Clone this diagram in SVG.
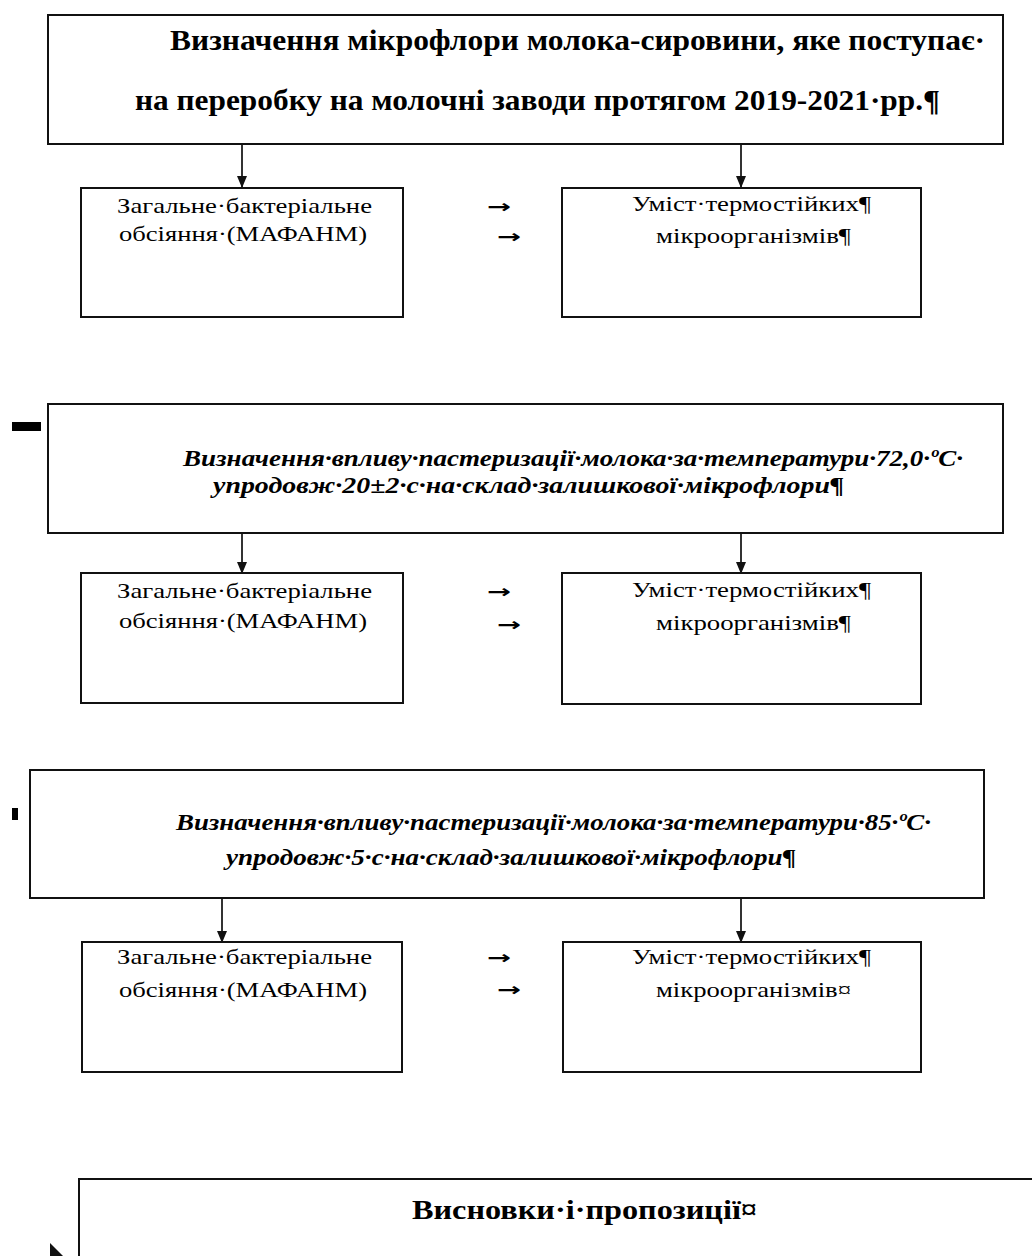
<svg xmlns="http://www.w3.org/2000/svg" width="1032" height="1256" viewBox="0 0 1032 1256">
<defs>
<marker id="ah" markerUnits="userSpaceOnUse" markerWidth="12" markerHeight="12" viewBox="0 0 12 12" refX="11" refY="6" orient="auto">
<path d="M0,1 L12,6 L0,11 Z" fill="#111"/>
</marker>
</defs>
<style>
.box{fill:#fff;stroke:#111;stroke-width:2}
.conn{stroke:#333;stroke-width:2;fill:none;marker-end:url(#ah)}
.tb{font-family:"Liberation Serif","Times New Roman",serif;font-weight:bold;font-size:29px;fill:#000}
.ti{font-family:"Liberation Serif","Times New Roman",serif;font-weight:bold;font-style:italic;font-size:23px;fill:#000}
.t{font-family:"Liberation Serif","Times New Roman",serif;font-size:22px;fill:#000}
.tab{font-family:"DejaVu Sans",sans-serif;font-weight:bold;font-size:18px;fill:#000}
.mark{fill:#000}
</style>
<rect width="1032" height="1256" fill="#fff"/>

<g id="connectors">
<line class="conn" x1="242" y1="145" x2="242" y2="187"/>
<line class="conn" x1="741" y1="145" x2="741" y2="187"/>
<line class="conn" x1="242" y1="533" x2="242" y2="573"/>
<line class="conn" x1="741" y1="533" x2="741" y2="573"/>
<line class="conn" x1="222" y1="898" x2="222" y2="942"/>
<line class="conn" x1="741" y1="898" x2="741" y2="942"/>
<path d="M50,1243 L63,1256 L50,1256 Z" fill="#111"/>
</g>

<g id="marks">
<rect class="mark" x="12" y="422" width="29" height="9"/>
<rect class="mark" x="12" y="808" width="6" height="12"/>
</g>

<g id="title1">
<rect class="box" x="48" y="15" width="955" height="129"/>
<text class="tb" x="170" y="50" textLength="815" lengthAdjust="spacingAndGlyphs">Визначення мікрофлори молока-сировини, яке поступає·</text>
<text class="tb" x="135" y="110" textLength="805" lengthAdjust="spacingAndGlyphs">на переробку на молочні заводи протягом 2019-2021·рр.¶</text>
</g>

<g id="box1a">
<rect class="box" x="81" y="188" width="322" height="129"/>
<text class="t" x="117" y="213" textLength="255" lengthAdjust="spacingAndGlyphs">Загальне·бактеріальне</text>
<text class="t" x="119" y="241" textLength="248" lengthAdjust="spacingAndGlyphs">обсіяння·(МАФАНМ)</text>
</g>
<g id="tabs1">
<text class="tab" x="487" y="213" textLength="24" lengthAdjust="spacingAndGlyphs">→</text>
<text class="tab" x="497" y="243" textLength="24" lengthAdjust="spacingAndGlyphs">→</text>
</g>
<g id="box1b">
<rect class="box" x="562" y="188" width="359" height="129"/>
<text class="t" x="632" y="211" textLength="239" lengthAdjust="spacingAndGlyphs">Уміст·термостійких¶</text>
<text class="t" x="656" y="243" textLength="195" lengthAdjust="spacingAndGlyphs">мікроорганізмів¶</text>
</g>

<g id="title2">
<rect class="box" x="48" y="404" width="955" height="129"/>
<text class="ti" x="183" y="466" textLength="780" lengthAdjust="spacingAndGlyphs">Визначення·впливу·пастеризації·молока·за·температури·72,0·ºС·</text>
<text class="ti" x="213" y="493" textLength="631" lengthAdjust="spacingAndGlyphs">упродовж·20±2·с·на·склад·залишкової·мікрофлори¶</text>
</g>

<g id="box2a">
<rect class="box" x="81" y="573" width="322" height="130"/>
<text class="t" x="117" y="598" textLength="255" lengthAdjust="spacingAndGlyphs">Загальне·бактеріальне</text>
<text class="t" x="119" y="628" textLength="248" lengthAdjust="spacingAndGlyphs">обсіяння·(МАФАНМ)</text>
</g>
<g id="tabs2">
<text class="tab" x="487" y="598" textLength="24" lengthAdjust="spacingAndGlyphs">→</text>
<text class="tab" x="497" y="631" textLength="24" lengthAdjust="spacingAndGlyphs">→</text>
</g>
<g id="box2b">
<rect class="box" x="562" y="573" width="359" height="131"/>
<text class="t" x="632" y="597" textLength="239" lengthAdjust="spacingAndGlyphs">Уміст·термостійких¶</text>
<text class="t" x="656" y="630" textLength="195" lengthAdjust="spacingAndGlyphs">мікроорганізмів¶</text>
</g>

<g id="title3">
<rect class="box" x="30" y="770" width="954" height="128"/>
<text class="ti" x="176" y="830" textLength="755" lengthAdjust="spacingAndGlyphs">Визначення·впливу·пастеризації·молока·за·температури·85·ºС·</text>
<text class="ti" x="226" y="865" textLength="570" lengthAdjust="spacingAndGlyphs">упродовж·5·с·на·склад·залишкової·мікрофлори¶</text>
</g>

<g id="box3a">
<rect class="box" x="82" y="942" width="320" height="130"/>
<text class="t" x="117" y="964" textLength="255" lengthAdjust="spacingAndGlyphs">Загальне·бактеріальне</text>
<text class="t" x="119" y="997" textLength="248" lengthAdjust="spacingAndGlyphs">обсіяння·(МАФАНМ)</text>
</g>
<g id="tabs3">
<text class="tab" x="487" y="964" textLength="24" lengthAdjust="spacingAndGlyphs">→</text>
<text class="tab" x="497" y="996" textLength="24" lengthAdjust="spacingAndGlyphs">→</text>
</g>
<g id="box3b">
<rect class="box" x="563" y="942" width="358" height="130"/>
<text class="t" x="632" y="964" textLength="239" lengthAdjust="spacingAndGlyphs">Уміст·термостійких¶</text>
<text class="t" x="656" y="997" textLength="195" lengthAdjust="spacingAndGlyphs">мікроорганізмів¤</text>
</g>

<g id="conclusions">
<rect class="box" x="79" y="1179" width="1000" height="120"/>
<text class="tb" x="412" y="1219" textLength="345" lengthAdjust="spacingAndGlyphs" style="font-size:27px">Висновки·і·пропозиції¤</text>
</g>
</svg>
